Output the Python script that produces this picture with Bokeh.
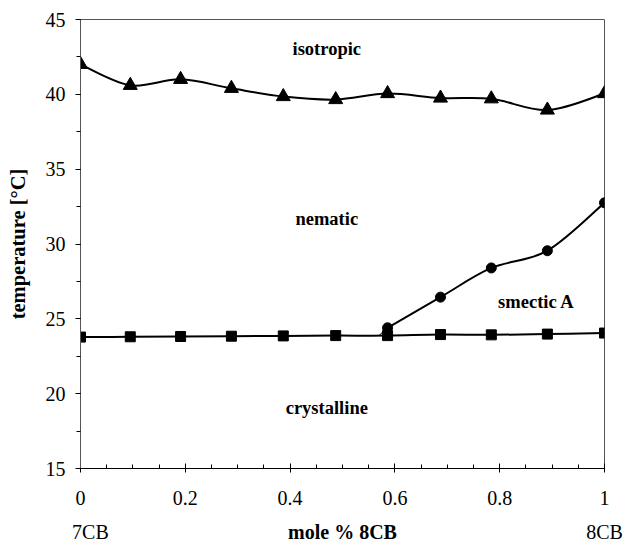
import numpy as np
from bokeh.plotting import figure
from bokeh.models import (Range1d, SingleIntervalTicker, FixedTicker, CustomJSTickFormatter,
                          Label, LinearAxis)
from bokeh.embed import file_html
from bokeh.resources import INLINE

# ---- data ----
x_iso = [0.0, 0.095, 0.191, 0.288, 0.387, 0.487, 0.586, 0.687, 0.784, 0.891, 1.0]
t_iso = [42.0, 40.6, 41.0, 40.4, 39.85, 39.65, 40.05, 39.75, 39.7, 38.95, 40.05]

x_cr = [0.0, 0.095, 0.191, 0.288, 0.387, 0.487, 0.586, 0.687, 0.784, 0.891, 1.0]
t_cr = [23.78, 23.8, 23.82, 23.84, 23.86, 23.88, 23.88, 23.95, 23.93, 23.98, 24.05]

x_sma = [0.586, 0.687, 0.784, 0.891, 1.0]
t_sma = [24.4, 26.45, 28.4, 29.55, 32.75]

# onset of the smectic A boundary on the crystalline line (no marker)
x_onset = [0.57]
t_onset = [23.9]

x_ticks_step = 0.2
y_ticks_step = 5

phase_names = ["isotropic", "nematic", "smectic A", "crystalline"]
phase_x = [0.47, 0.47, 0.87, 0.47]
phase_y = [43.0, 31.67, 26.1, 19.07]

end_names = ["7CB", "8CB"]
end_x = [0.019, 1.0]

SERIF = "Liberation Serif"

p = figure(width=628, height=547, output_backend="svg", toolbar_location=None,
           x_range=Range1d(0, 1), y_range=Range1d(15, 45),
           min_border_left=80, min_border_right=24, min_border_top=19,
           min_border_bottom=79)
p.grid.visible = False
p.outline_line_color = "#555555"
p.outline_line_width = 1
p.background_fill_color = "white"
p.border_fill_color = "white"


def smooth(xs, ys, color="black", width=2, dash="solid"):
    n = len(xs)
    x0, y0, x1, y1, cx0, cy0, cx1, cy1 = [], [], [], [], [], [], [], []
    for i in range(n - 1):
        a = max(i - 1, 0)
        d = min(i + 2, n - 1)
        x0.append(xs[i]); y0.append(ys[i])
        x1.append(xs[i + 1]); y1.append(ys[i + 1])
        cx0.append(xs[i] + (xs[i + 1] - xs[a]) / 6.0)
        cy0.append(ys[i] + (ys[i + 1] - ys[a]) / 6.0)
        cx1.append(xs[i + 1] - (xs[d] - xs[i]) / 6.0)
        cy1.append(ys[i + 1] - (ys[d] - ys[i]) / 6.0)
    p.bezier(x0=x0, y0=y0, x1=x1, y1=y1, cx0=cx0, cy0=cy0, cx1=cx1, cy1=cy1,
             line_color=color, line_width=width, line_dash=dash)


smooth(x_iso, t_iso)
smooth(x_cr, t_cr)
smooth(x_sma, t_sma)
p.segment(x0=x_onset, y0=t_onset, x1=[x_sma[0]], y1=[t_sma[0]],
          line_color="black", line_width=1)

p.scatter(x_iso, t_iso, marker="triangle", size=14, color="black")
p.scatter(x_cr, t_cr, marker="square", size=10, color="black")
p.scatter(x_sma, t_sma, marker="circle", size=10, color="black")

for name, x, y in zip(phase_names, phase_x, phase_y):
    p.add_layout(Label(x=x, y=y, text=name, text_font=SERIF, text_font_style="bold",
                       text_font_size="18.5px", text_align="center",
                       text_baseline="middle", text_color="black"))

# x axis (numbers)
xa = p.xaxis[0]
xa.ticker = SingleIntervalTicker(interval=x_ticks_step, num_minor_ticks=4)
xa.formatter = CustomJSTickFormatter(code="return String(Math.round(tick*10)/10)")
xa.major_tick_in = 5
xa.major_tick_out = 4
xa.minor_tick_in = 4
xa.minor_tick_out = 0
xa.axis_line_color = "black"
xa.major_tick_line_color = "black"
xa.minor_tick_line_color = "black"
xa.major_label_text_font = SERIF
xa.major_label_text_font_size = "20px"
xa.major_label_text_color = "black"
xa.major_label_standoff = 18

# second x axis: compound names and axis title
xb = LinearAxis(ticker=FixedTicker(ticks=end_x),
                formatter=CustomJSTickFormatter(
                    args=dict(names=end_names),
                    code="return tick < 0.5 ? names[0] : names[1]"))
xb.axis_line_color = None
xb.major_tick_line_color = None
xb.minor_tick_line_color = None
xb.major_tick_in = 0
xb.major_tick_out = 0
xb.major_label_text_font = SERIF
xb.major_label_text_font_size = "20px"
xb.major_label_text_color = "black"
xb.major_label_standoff = 13
xb.axis_label = "mole % 8CB"
xb.axis_label_text_font = SERIF
xb.axis_label_text_font_style = "bold"
xb.axis_label_text_font_size = "20px"
xb.axis_label_text_color = "black"
xb.axis_label_standoff = -25
p.add_layout(xb, "below")

# y axis
ya = p.yaxis[0]
ya.ticker = SingleIntervalTicker(interval=y_ticks_step, num_minor_ticks=2)
ya.major_tick_in = 0
ya.major_tick_out = 5
ya.minor_tick_in = 0
ya.minor_tick_out = 4
ya.axis_line_color = "#555555"
ya.major_tick_line_color = "black"
ya.minor_tick_line_color = "black"
ya.major_label_text_font = SERIF
ya.major_label_text_font_size = "20px"
ya.major_label_text_color = "black"
ya.major_label_standoff = 10
ya.axis_label = "temperature [°C]"
ya.axis_label_text_font = SERIF
ya.axis_label_text_font_style = "bold"
ya.axis_label_text_font_size = "20.5px"
ya.axis_label_text_color = "black"
ya.axis_label_standoff = 14

open("out.html", "w").write(file_html(p, INLINE))
